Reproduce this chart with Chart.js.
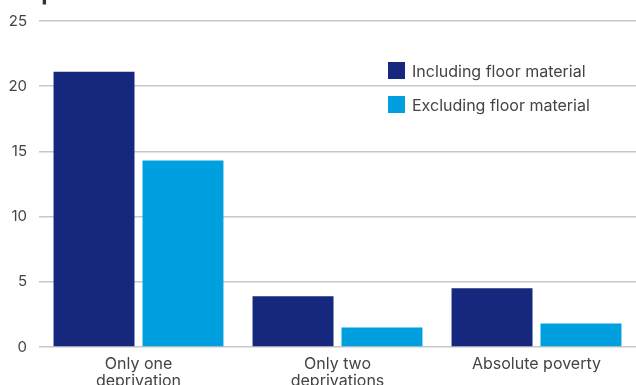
<!DOCTYPE html>
<html>
<head>
<meta charset="utf-8">
<script src="https://cdn.jsdelivr.net/npm/chart.js@4"></script>
<style>
  html, body { margin: 0; padding: 0; background: #fff; }
  #wrap { position: relative; width: 636px; height: 385px; overflow: hidden; font-family: Inter, "Liberation Sans", Arial, sans-serif; }
  #title { position: absolute; left: 13px; top: -22px; font-size: 23px; font-weight: bold; color: #333; white-space: nowrap; }
  #legend { position: absolute; left: 388px; top: 62px; }
  .item { display: flex; align-items: center; height: 17px; margin-bottom: 17px; font-size: 16px; color: #444; }
  .swatch { width: 17px; height: 17px; margin-right: 7px; }
  canvas { position: absolute; left: 0; top: 0; }
</style>
</head>
<body>
<div id="wrap">
  <canvas id="chart" width="636" height="385"></canvas>
  <div id="title">deprivations</div>
  <div id="legend"></div>
</div>
<script>
const categories = [["Only one", "deprivation"], ["Only two", "deprivations"], "Absolute poverty"];
const seriesNames = ["Including floor material", "Excluding floor material"];
const including = [21.1, 3.9, 4.5];
const excluding = [14.3, 1.5, 1.8];
const yTicks = [0, 5, 10, 15, 20, 25];
const colors = ["#16287e", "#009fe0"];

const legend = document.getElementById("legend");
seriesNames.forEach(function (name, i) {
    const row = document.createElement("div");
    row.className = "item";
    row.innerHTML = '<span class="swatch" style="background:' + colors[i] + '"></span>' + name;
    legend.appendChild(row);
});

const family = "Inter, 'Liberation Sans', Arial, sans-serif";

new Chart(document.getElementById("chart").getContext("2d"), {
    type: "bar",
    data: {
        labels: categories,
        datasets: [
            { label: seriesNames[0], data: including, backgroundColor: colors[0] },
            { label: seriesNames[1], data: excluding, backgroundColor: colors[1] },
        ],
    },
    options: {
        responsive: false,
        animation: false,
        categoryPercentage: 0.894,
        barPercentage: 0.91,
        layout: { padding: { top: 21, right: 0, left: 0, bottom: 0 } },
        plugins: {
            legend: { display: false },
            tooltip: { enabled: false },
        },
        scales: {
            x: {
                grid: { display: false, drawTicks: false },
                border: { display: false },
                ticks: { color: "#444", font: { family: family, size: 16, lineHeight: 1.05 }, padding: 9, maxRotation: 0 },
                afterFit: function (scale) { scale.height = 38; },
            },
            y: {
                min: 0,
                max: 25,
                afterBuildTicks: function (scale) {
                    scale.ticks = yTicks.map(function (v) { return { value: v }; });
                },
                grid: { color: "#c8c8c8", lineWidth: 1.5, drawTicks: false },
                border: { display: false },
                ticks: { color: "#444", font: { family: family, size: 15 }, padding: 12 },
                afterFit: function (scale) { scale.width = 39; },
            },
        },
    },
});
</script>
</body>
</html>
